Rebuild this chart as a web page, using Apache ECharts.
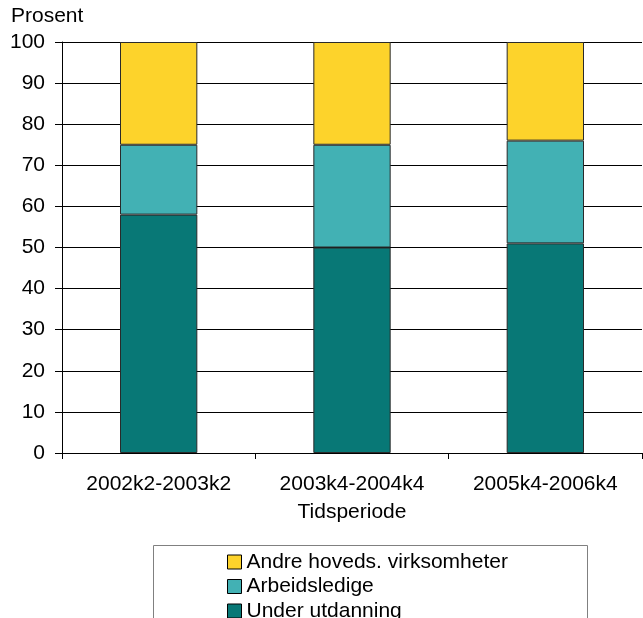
<!DOCTYPE html>
<html><head><meta charset="utf-8">
<script src="https://cdn.jsdelivr.net/npm/echarts@6/dist/echarts.min.js"></script>
<style>html,body{margin:0;padding:0;background:#fff}#c{width:643px;height:618px}</style>
</head><body><div id="c"></div>
<script>
const categories = ['2002k2-2003k2', '2003k4-2004k4', '2005k4-2006k4'];
const underUtdanning = [58, 50, 51];
const arbeidsledige = [17, 25, 25];
const andre = [25, 25, 24];
const yTicks = [0, 10, 20, 30, 40, 50, 60, 70, 80, 90, 100];

const FONT = 'Liberation Sans, Arial, sans-serif';
const FS = 21;
const chart = echarts.init(document.getElementById('c'), null, {renderer: 'canvas'});
const border = {borderColor: '#2a2a2a', borderWidth: 1};
chart.setOption({
  animation: false,
  title: {text: 'Prosent', left: 11, top: 6, padding: 0,
    textStyle: {fontFamily: FONT, fontSize: FS, fontWeight: 'normal', color: '#000'}},
  grid: {left: 62, right: 1, top: 42, bottom: 165, containLabel: false},
  xAxis: {
    type: 'category', data: categories,
    axisLine: {lineStyle: {color: '#000', width: 1}},
    axisTick: {show: true, length: 6, inside: false, lineStyle: {color: '#000'}},
    axisLabel: {margin: 21, fontFamily: FONT, fontSize: FS, color: '#000'},
    name: 'Tidsperiode', nameLocation: 'middle', nameGap: 49,
    nameTextStyle: {fontFamily: FONT, fontSize: FS, color: '#000'}
  },
  yAxis: {
    type: 'value', min: yTicks[0], max: yTicks[yTicks.length - 1], interval: 10,
    axisLine: {show: true, lineStyle: {color: '#000', width: 1}},
    axisTick: {show: true, length: 7, lineStyle: {color: '#000'}},
    axisLabel: {margin: 17, fontFamily: FONT, fontSize: FS, color: '#000'},
    splitLine: {show: true, lineStyle: {color: '#000', width: 1}}
  },
  legend: {
    orient: 'vertical', left: 227, top: 551.5, height: 120, padding: 0,
    itemWidth: 14, itemHeight: 14, itemGap: 3.5, icon: 'rect',
    data: ['Andre hoveds. virksomheter', 'Arbeidsledige', 'Under utdanning'],
    textStyle: {fontFamily: FONT, fontSize: FS, color: '#000', lineHeight: 20},
    itemStyle: {borderColor: '#000', borderWidth: 1}
  },
  graphic: [{type: 'rect', shape: {x: 153.5, y: 545.5, width: 434, height: 100},
    style: {fill: 'none', stroke: '#808080', lineWidth: 1}, z: -1}],
  series: [
    {name: 'Under utdanning', type: 'bar', stack: 's', barWidth: '40%', data: underUtdanning,
      itemStyle: Object.assign({color: '#087876'}, border)},
    {name: 'Arbeidsledige', type: 'bar', stack: 's', data: arbeidsledige,
      itemStyle: Object.assign({color: '#42B1B4'}, border)},
    {name: 'Andre hoveds. virksomheter', type: 'bar', stack: 's', data: andre,
      itemStyle: Object.assign({color: '#FDD32B'}, border)}
  ]
});
</script></body></html>
